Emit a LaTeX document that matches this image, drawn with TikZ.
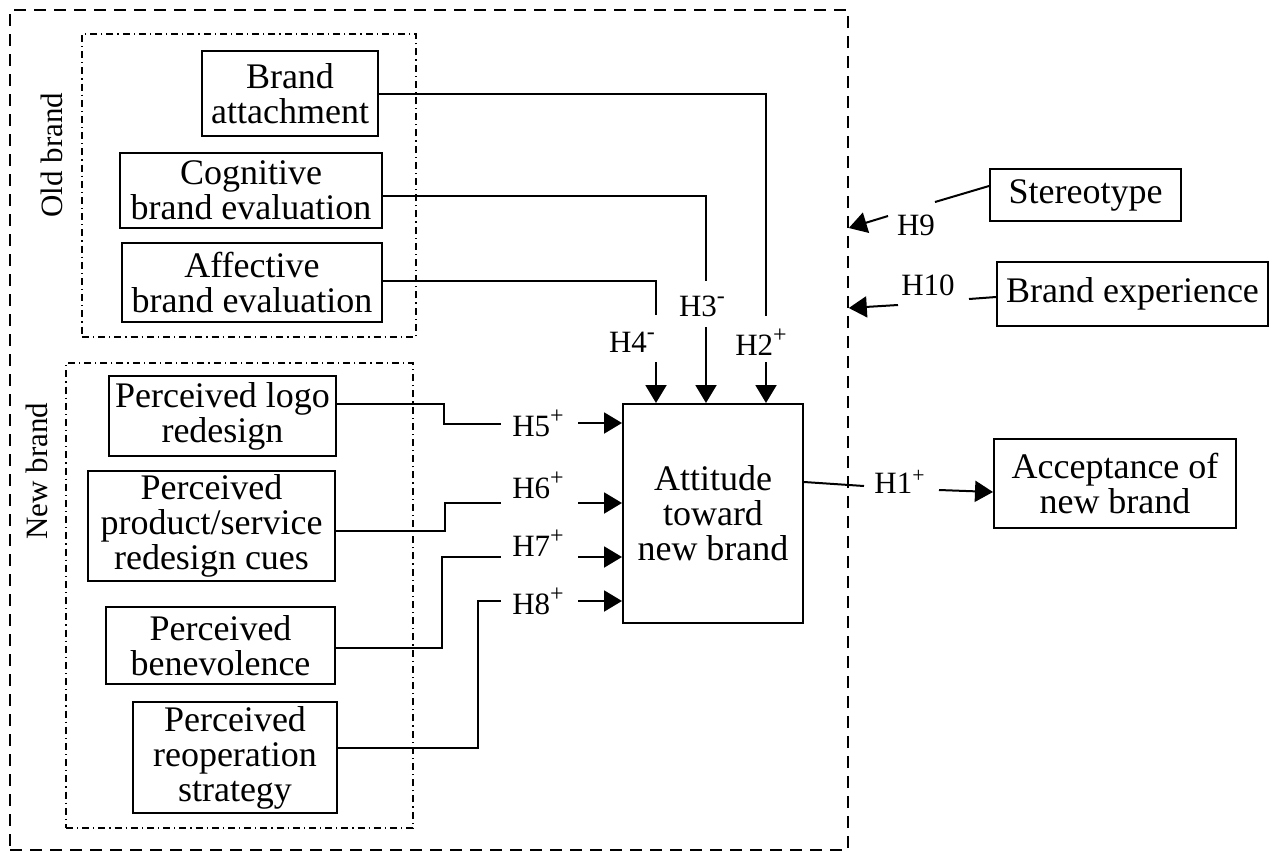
\documentclass[tikz,border=0pt]{standalone}
\usepackage{fontspec}
\setmainfont{Liberation Serif}
\usetikzlibrary{arrows.meta}
\newcommand{\hsup}[1]{\raisebox{0.42em}{\fontsize{12}{12}\selectfont #1}}
\begin{document}
\begin{tikzpicture}[x=0.5pt,y=-0.5pt,
  box/.style={draw,line width=1pt,inner sep=0pt,align=center,font=\fontsize{18}{17.5}\selectfont},
  lab/.style={inner sep=0pt,font=\fontsize{15.5}{15.5}\selectfont},
  grp/.style={draw,line width=0.7pt,dash pattern=on 3.5pt off 2pt on 0.6pt off 2pt,inner sep=0pt},
  conn/.style={line width=1pt},
  arr/.style={line width=1pt,-{Triangle[length=9pt,width=10.5pt]}}]
\useasboundingbox (0,0) rectangle (1276,852);
% frames
\node[draw,line width=0.8pt,dash pattern=on 6pt off 4pt,minimum width=419pt,minimum height=420pt,inner sep=0pt] (outer) at (429,430) {};
\node[grp,minimum width=167pt,minimum height=151.5pt] (oldg) at (249,185.5) {};
\node[grp,minimum width=173.5pt,minimum height=232.5pt] (newg) at (239.5,595.5) {};
\node[lab,rotate=90] (oldl) at (52,155) {Old brand};
\node[lab,rotate=90] (newl) at (37,471) {New brand};
% boxes
\node[box,minimum width=88pt,minimum height=42.5pt] (ba) at (290,93.5) {Brand\\attachment};
\node[box,minimum width=131pt,minimum height=37.5pt] (cog) at (251,190.5) {Cognitive\\brand evaluation};
\node[box,minimum width=130pt,minimum height=39.5pt] (aff) at (252,282.5) {Affective\\brand evaluation};
\node[box,minimum width=113.5pt,minimum height=40pt] (logo) at (222.5,416) {Perceived logo\\redesign};
\node[box,minimum width=123.5pt,minimum height=55pt] (prod) at (211.5,526) {Perceived\\product/service\\redesign cues};
\node[box,minimum width=114.5pt,minimum height=38.5pt] (ben) at (220.5,645.5) {Perceived\\benevolence};
\node[box,minimum width=102pt,minimum height=55.5pt] (reop) at (235,757.5) {Perceived\\reoperation\\strategy};
\node[box,minimum width=90pt,minimum height=109.5pt] (att) at (713,513.5) {Attitude\\toward\\new brand};
\node[box,minimum width=95.5pt,minimum height=26pt] (ster) at (1085.5,195) {Stereotype};
\node[box,minimum width=135.5pt,minimum height=32pt] (bexp) at (1132.5,294) {Brand experience};
\node[box,minimum width=121pt,minimum height=44.5pt] (acc) at (1115,483.5) {Acceptance of\\new brand};
% labels
\node[lab] (h2) at (761,342) {H2\hsup{+}};
\node[lab] (h3) at (702,306) {H3\hsup{-}};
\node[lab] (h4) at (632,342) {H4\hsup{-}};
\node[lab] (h5) at (538,423) {H5\hsup{+}};
\node[lab] (h6) at (538,485) {H6\hsup{+}};
\node[lab] (h7) at (538,543) {H7\hsup{+}};
\node[lab] (h8) at (538,601) {H8\hsup{+}};
\node[lab] (h1) at (900,482) {H1\textsuperscript{+}};
\node[lab] (h9) at (916,225) {H9};
\node[lab] (h10) at (928,285) {H10};
% coordinates
\coordinate (c2a) at (766,316);
\coordinate (c2b) at (766,362);
\coordinate (c3t) at (706,196);
\coordinate (c3a) at (706,281);
\coordinate (c3b) at (706,327);
\coordinate (c4a) at (656,315);
\coordinate (c4b) at (656,362);
\coordinate (k5) at (444,404);
\coordinate (e5) at (501,424);
\coordinate (a5) at (578,423);
\coordinate (k6) at (445,531);
\coordinate (e6) at (501,503);
\coordinate (a6) at (578,503);
\coordinate (k7) at (442,648);
\coordinate (e7) at (501,557);
\coordinate (a7) at (578,557);
\coordinate (k8) at (478,748);
\coordinate (e8) at (501,601);
\coordinate (a8) at (578,601);
\coordinate (s1) at (803,482);
\coordinate (e1) at (864,486);
\coordinate (a1) at (939,490);
\coordinate (t1) at (994,492);
\coordinate (s9) at (988,186);
\coordinate (e9) at (935,202);
\coordinate (a9) at (888,216);
\coordinate (t9) at (852,228);
\coordinate (s10) at (997,297);
\coordinate (e10) at (969,299);
\coordinate (a10) at (898,305);
\coordinate (t10) at (852,308);
% top connectors
\draw[conn] (ba.east) -| (c2a);
\draw[arr] (c2b) -- (c2b |- att.north);
\draw[conn] (cog.east |- c3t) -- (c3t) -- (c3a);
\draw[arr] (c3b) -- (c3b |- att.north);
\draw[conn] (aff.east |- 0,281) -| (c4a);
\draw[arr] (c4b) -- (c4b |- att.north);
% left connectors
\draw[conn] (logo.east |- k5) -- (k5) |- (e5);
\draw[arr] (a5) -- (att.west |- a5);
\draw[conn] (prod.east |- k6) -- (k6) |- (e6);
\draw[arr] (a6) -- (att.west |- a6);
\draw[conn] (ben.east |- k7) -- (k7) |- (e7);
\draw[arr] (a7) -- (att.west |- a7);
\draw[conn] (reop.east |- k8) -- (k8) |- (e8);
\draw[arr] (a8) -- (att.west |- a8);
% right connectors
\draw[conn] (att.east |- s1) -- (e1);
\draw[arr] (a1) -- (acc.west |- t1);
\draw[conn] (ster.west |- s9) -- (e9);
\draw[arr] (a9) -- (outer.east |- t9);
\draw[conn] (bexp.west |- s10) -- (e10);
\draw[arr] (a10) -- (outer.east |- t10);
\end{tikzpicture}
\end{document}
